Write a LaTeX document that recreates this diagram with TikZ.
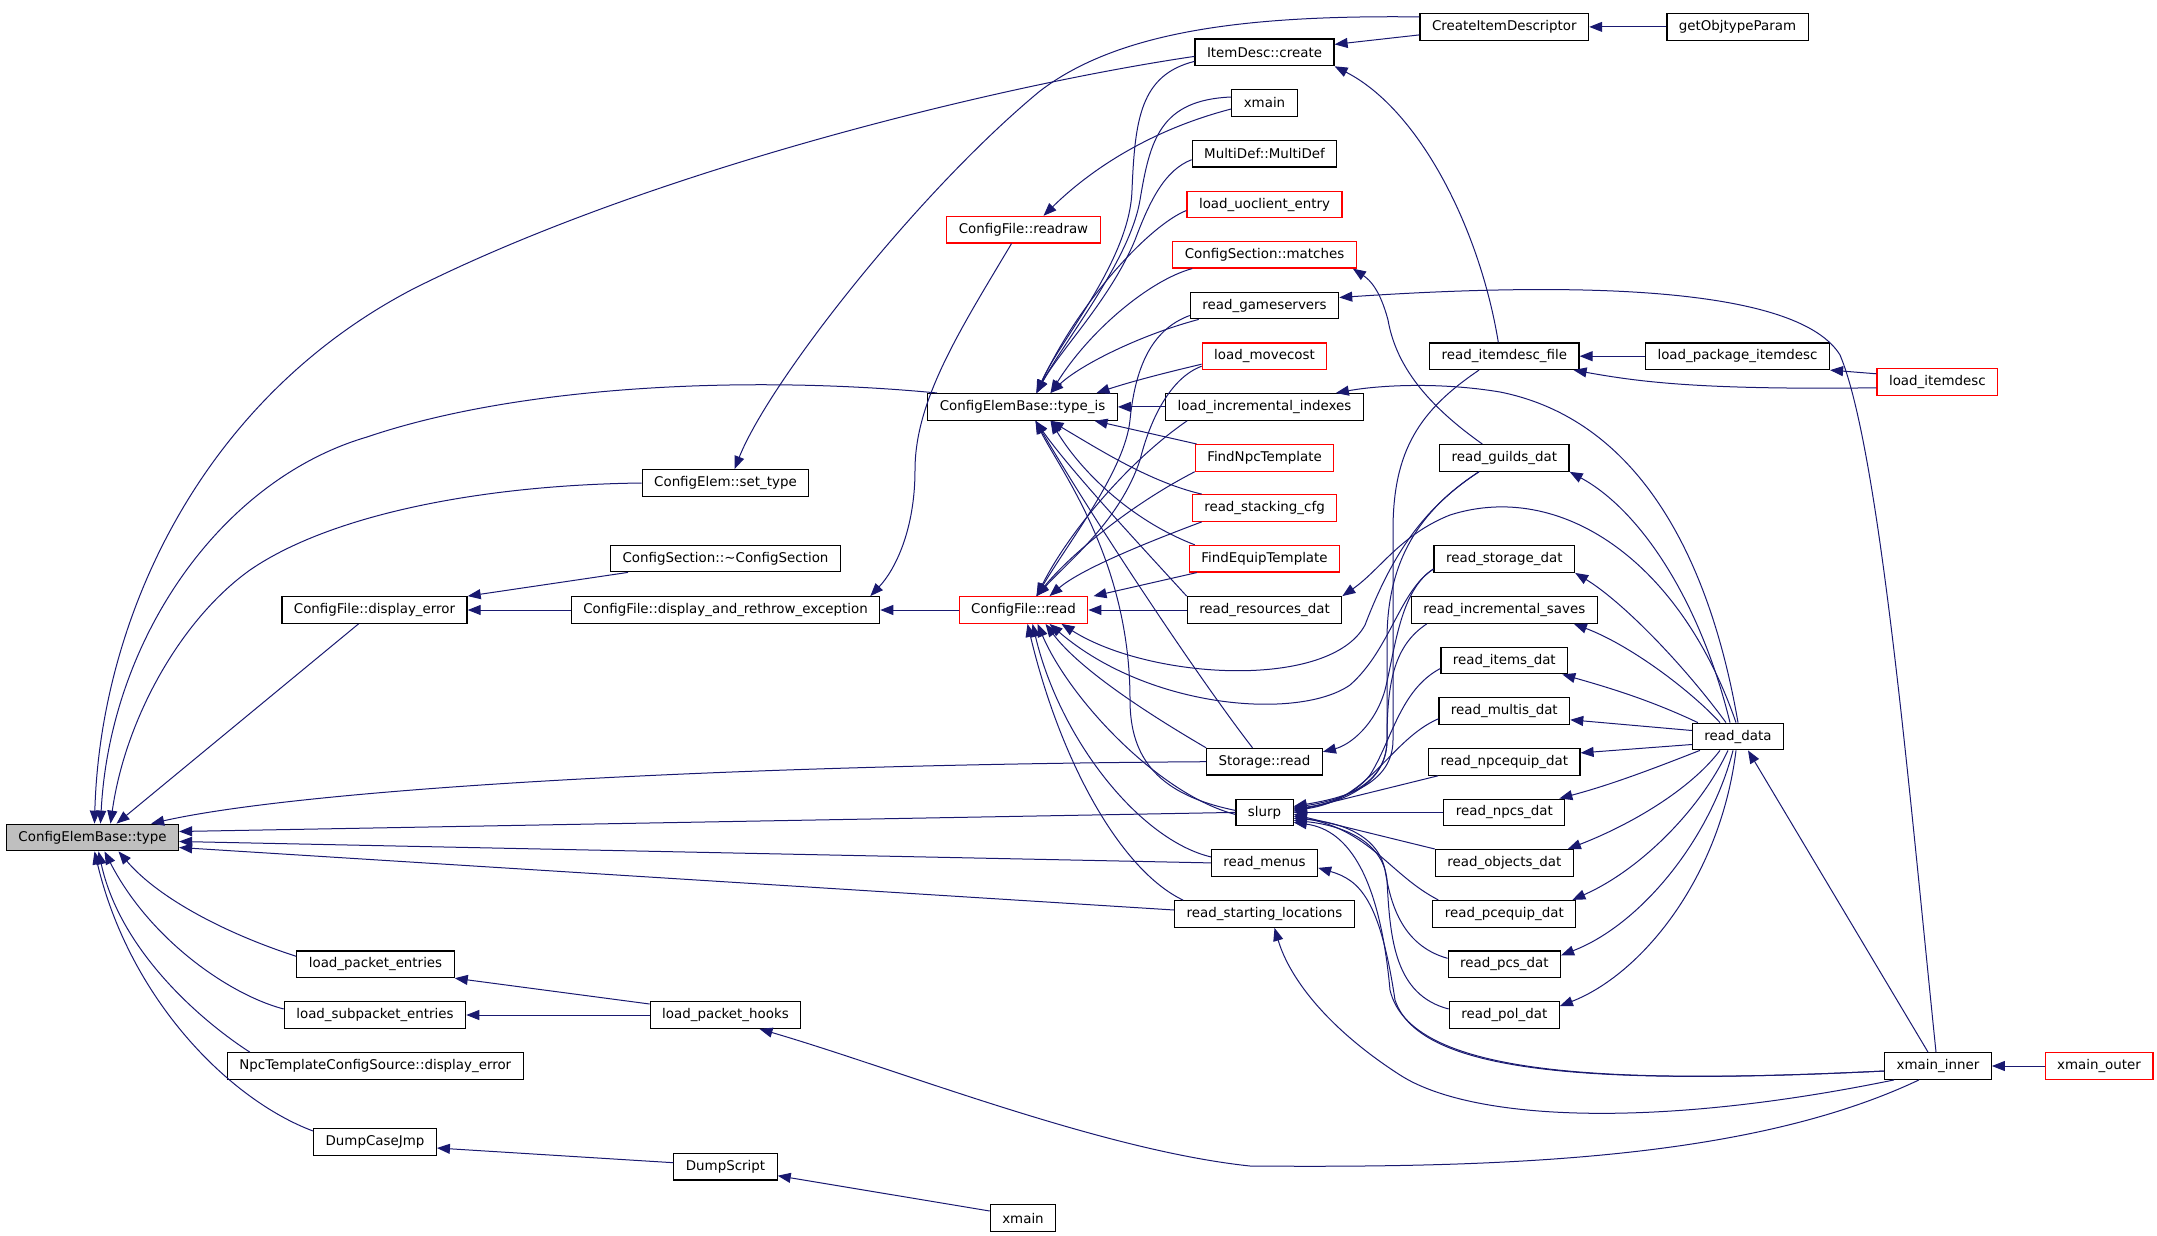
\documentclass[tikz,border=0pt]{standalone}
\usepackage{fontspec}
\usepackage{tikz}
\usetikzlibrary{arrows.meta,positioning}
\newfontfamily\graphfont{DejaVu Sans}
\definecolor{edgeblue}{RGB}{25,25,112}
\definecolor{rootgray}{RGB}{191,191,191}
\definecolor{boxred}{RGB}{255,0,0}
\tikzset{
  fnbox/.style={draw=black, fill=white, line width=0.6pt, inner xsep=6pt, inner ysep=0pt,
                minimum height=13.3pt, font=\graphfont\fontsize{6.7pt}{8pt}\selectfont},
  fnred/.style={fnbox, draw=boxred},
  fnroot/.style={fnbox, fill=rootgray},
  call/.style={draw=edgeblue, line width=0.5pt, -{Triangle[length=6.5pt,width=5pt]}}
}

\begin{document}
\begin{tikzpicture}[x=0.5pt,y=-0.5pt]
  \useasboundingbox (0,0) rectangle (2157,1236);
  % left part
  \node[fnroot] (type) at (92.5,837.5) {ConfigElemBase::type};
  \node[fnbox] (disperr) at (374.5,610) {ConfigFile::display\_error};
  \node[fnbox] (rethrow) at (725.5,610) {ConfigFile::display\_and\_rethrow\_exception};
  \node[fnbox] (settype) at (725.5,483) {ConfigElem::set\_type};
  \node[fnbox] (dtor) at (725.5,558.5) {ConfigSection::\textasciitilde ConfigSection};
  \node[fnbox] (lpe) at (375.5,964.3) {load\_packet\_entries};
  \node[fnbox] (lspe) at (375,1015) {load\_subpacket\_entries};
  \node[fnbox] (npcerr) at (375.3,1066) {NpcTemplateConfigSource::display\_error};
  \node[fnbox] (dcj) at (375,1142) {DumpCaseJmp};
  \node[fnbox] (lph) at (725.5,1015) {load\_packet\_hooks};
  \node[fnbox] (dumpscript) at (725.5,1166.7) {DumpScript};
  \node[fnbox] (xmainb) at (1023,1218) {xmain};
  \node[fnred] (readraw) at (1023.5,229.7) {ConfigFile::readraw};
  \node[fnbox] (typeis) at (1022.5,406.9) {ConfigElemBase::type\_is};
  \node[fnred] (cfread) at (1023.5,610) {ConfigFile::read};
  % middle column
  \node[fnbox] (itemcreate) at (1264.5,52.4) {ItemDesc::create};
  \node[fnbox] (xmaint) at (1264.5,103) {xmain};
  \node[fnbox] (multidef) at (1264.5,153.7) {MultiDef::MultiDef};
  \node[fnred] (uoclient) at (1264.5,204.5) {load\_uoclient\_entry};
  \node[fnred] (matches) at (1264.5,254.7) {ConfigSection::matches};
  \node[fnbox] (gameservers) at (1264.5,305.5) {read\_gameservers};
  \node[fnred] (movecost) at (1264.5,356.2) {load\_movecost};
  \node[fnbox] (incidx) at (1264.5,406.9) {load\_incremental\_indexes};
  \node[fnred] (findnpc) at (1264.5,457.9) {FindNpcTemplate};
  \node[fnred] (stacking) at (1264.5,508) {read\_stacking\_cfg};
  \node[fnred] (findequip) at (1264.5,558.7) {FindEquipTemplate};
  \node[fnbox] (resources) at (1264.5,610) {read\_resources\_dat};
  \node[fnbox] (storageread) at (1264.5,761.7) {Storage::read};
  \node[fnbox] (slurp) at (1264.5,812.4) {slurp};
  \node[fnbox] (menus) at (1264.5,862.9) {read\_menus};
  \node[fnbox] (startloc) at (1264.5,914) {read\_starting\_locations};
  % right part
  \node[fnbox] (createid) at (1504.3,26.9) {CreateItemDescriptor};
  \node[fnbox] (getobj) at (1737.5,26.9) {getObjtypeParam};
  \node[fnbox] (itemdescfile) at (1504.3,356.2) {read\_itemdesc\_file};
  \node[fnbox] (lpkgitem) at (1737.5,356.2) {load\_package\_itemdesc};
  \node[fnred] (loaditemdesc) at (1937.4,381.8) {load\_itemdesc};
  \node[fnbox] (guilds) at (1504.3,457.9) {read\_guilds\_dat};
  \node[fnbox] (storagedat) at (1504.3,559) {read\_storage\_dat};
  \node[fnbox] (incsaves) at (1504.3,610) {read\_incremental\_saves};
  \node[fnbox] (items) at (1504.3,660.5) {read\_items\_dat};
  \node[fnbox] (multis) at (1504.3,710.8) {read\_multis\_dat};
  \node[fnbox] (npcequip) at (1504.3,761.9) {read\_npcequip\_dat};
  \node[fnbox] (npcs) at (1504.3,812.4) {read\_npcs\_dat};
  \node[fnbox] (objects) at (1504.3,862.9) {read\_objects\_dat};
  \node[fnbox] (pcequip) at (1504.3,913.8) {read\_pcequip\_dat};
  \node[fnbox] (pcs) at (1504.3,964.3) {read\_pcs\_dat};
  \node[fnbox] (pol) at (1504.3,1015) {read\_pol\_dat};
  \node[fnbox] (readdata) at (1738,736.5) {read\_data};
  \node[fnbox] (xmaininner) at (1938,1066) {xmain\_inner};
  \node[fnred] (xmainouter) at (2099,1066) {xmain\_outer};

  % callers of ConfigElemBase::type
  \draw[call] ([yshift=-2pt]itemcreate.west) .. controls (1000,85) and (650,170) .. (413,289) .. controls (200,400) and (100,620) .. ([xshift=1pt]type.north);
  \draw[call] ([xshift=5pt]typeis.north west) .. controls (750,375) and (520,385) .. (367,437) .. controls (220,480) and (110,640) .. ([xshift=4pt]type.north);
  \draw[call] (settype.west) .. controls (480,485) and (330,515) .. (250,570) .. controls (180,620) and (125,720) .. ([xshift=9pt]type.north);
  \draw[call] ([xshift=-8pt]disperr.south) -- ([xshift=12pt]type.north);
  \draw[call] (storageread.west) .. controls (700,765) and (300,790) .. ([xshift=-14pt]type.north east);
  \draw[call] (slurp.west) -- ([yshift=3pt]type.east);
  \draw[call] (menus.west) -- ([yshift=-2pt]type.east);
  \draw[call] ([yshift=2pt]startloc.west) -- ([yshift=-5pt]type.east);
  \draw[call] ([yshift=4pt]lpe.west) .. controls (230,935) and (160,900) .. ([xshift=13pt]type.south);
  \draw[call] ([yshift=3pt]lspe.west) .. controls (230,995) and (150,940) .. ([xshift=6pt]type.south);
  \draw[call] ([xshift=11.5pt]npcerr.north west) .. controls (200,1020) and (120,950) .. ([xshift=3pt]type.south);
  \draw[call] ([yshift=5.5pt]dcj.west) .. controls (230,1100) and (130,1000) .. ([xshift=1pt]type.south);

  % set_type, ItemDesc::create, CreateItemDescriptor
  \draw[call] ([yshift=5pt]createid.west) .. controls (1250,15) and (1120,30) .. (1040,91) .. controls (920,190) and (770,380) .. ([xshift=4.5pt]settype.north);
  \draw[call] ([yshift=-4pt]createid.west) -- ([yshift=4pt]itemcreate.east);
  \draw[call] (getobj.west) -- (createid.east);
  \draw[call] ([xshift=-3pt]itemdescfile.north) .. controls (1480,230) and (1420,110) .. (itemcreate.south east);
  \draw[call] (lpkgitem.west) -- (itemdescfile.east);
  \draw[call] ([yshift=4pt]loaditemdesc.west) -- (lpkgitem.south east);
  \draw[call] ([yshift=-3pt]loaditemdesc.west) .. controls (1700,390) and (1640,382) .. ([xshift=-3pt]itemdescfile.south east);

  % readraw and the display chain
  \draw[call] ([yshift=-3pt]xmaint.west) .. controls (1150,130) and (1090,170) .. ([xshift=10pt]readraw.north);
  \draw[call] ([xshift=-6pt]readraw.south) .. controls (960,330) and (915,400) .. (915,470) .. controls (915,530) and (895,570) .. ([xshift=-5pt]rethrow.north east);
  \draw[call] (cfread.west) -- (rethrow.east);
  \draw[call] (rethrow.west) -- (disperr.east);
  \draw[call] ([xshift=9pt]dtor.south west) -- (disperr.north east);

  % callers of type_is
  \draw[call] ([yshift=-4.5pt]itemcreate.west) .. controls (1140,75) and (1135,120) .. (1132,190) .. controls (1130,260) and (1060,340) .. ([xshift=7pt]typeis.north);
  \draw[call] ([yshift=3pt]xmaint.west) .. controls (1160,100) and (1150,140) .. (1140,200) .. controls (1130,260) and (1065,340) .. ([xshift=7pt]typeis.north);
  \draw[call] ([yshift=-3pt]multidef.west) .. controls (1165,170) and (1150,200) .. (1135,240) .. controls (1110,300) and (1060,350) .. ([xshift=7pt]typeis.north);
  \draw[call] ([yshift=-3pt]uoclient.west) .. controls (1150,225) and (1080,300) .. ([xshift=7pt]typeis.north);
  \draw[call] ([xshift=10pt]matches.south west) .. controls (1150,280) and (1090,330) .. ([xshift=14pt]typeis.north);
  \draw[call] ([xshift=4.5pt]gameservers.south west) .. controls (1140,335) and (1080,365) .. ([xshift=14pt]typeis.north);
  \draw[call] ([yshift=-4pt]movecost.west) .. controls (1160,374) and (1130,382) .. ([xshift=37pt]typeis.north);
  \draw[call] (incidx.west) -- (typeis.east);
  \draw[call] ([xshift=1pt]findnpc.north west) -- ([xshift=36pt]typeis.south);
  \draw[call] ([xshift=5pt]stacking.north west) .. controls (1150,482) and (1100,450) .. ([xshift=14pt]typeis.south);
  \draw[call] ([xshift=3pt]findequip.north west) .. controls (1130,520) and (1080,470) .. ([xshift=14pt]typeis.south);
  \draw[call] (resources.north west) .. controls (1140,545) and (1070,470) .. ([xshift=6.5pt]typeis.south);
  \draw[call] ([xshift=-6pt]storageread.north) .. controls (1200,680) and (1100,530) .. ([xshift=6.5pt]typeis.south);
  \draw[call] ([yshift=1pt]slurp.west) .. controls (1160,795) and (1130,760) .. (1130,700) .. controls (1130,560) and (1060,470) .. ([xshift=6.5pt]typeis.south);

  % callers of ConfigFile::read
  \draw[call] ([yshift=-5pt]gameservers.west) .. controls (1150,330) and (1135,370) .. (1130,420) .. controls (1125,470) and (1070,540) .. ([xshift=6.5pt]cfread.north);
  \draw[call] ([yshift=-5pt]movecost.west) .. controls (1170,378) and (1150,420) .. (1140,460) .. controls (1120,520) and (1070,560) .. ([xshift=6.5pt]cfread.north);
  \draw[call] ([xshift=11pt]incidx.south west) .. controls (1130,460) and (1070,530) .. ([xshift=6.5pt]cfread.north);
  \draw[call] (findnpc.south west) .. controls (1130,505) and (1070,555) .. ([xshift=6.5pt]cfread.north);
  \draw[call] ([xshift=5pt]stacking.south west) .. controls (1140,545) and (1080,570) .. ([xshift=13pt]cfread.north);
  \draw[call] ([xshift=4pt]findequip.south west) -- ([xshift=35pt]cfread.north);
  \draw[call] (resources.west) -- (cfread.east);
  \draw[call] ([xshift=20pt]guilds.south west) .. controls (1420,510) and (1390,560) .. (1365,625) .. controls (1330,690) and (1150,680) .. ([xshift=19pt]cfread.south);
  \draw[call] ([yshift=-5pt]storagedat.west) .. controls (1400,590) and (1390,650) .. (1350,685) .. controls (1300,720) and (1150,710) .. ([xshift=13pt]cfread.south);
  \draw[call] (storageread.north west) .. controls (1150,715) and (1080,670) .. ([xshift=11pt]cfread.south);
  \draw[call] ([yshift=-1pt]slurp.west) .. controls (1160,795) and (1070,700) .. ([xshift=7pt]cfread.south);
  \draw[call] ([yshift=3pt]menus.west) .. controls (1140,840) and (1060,740) .. ([xshift=4.5pt]cfread.south);
  \draw[call] ([xshift=4.5pt]startloc.north west) .. controls (1120,870) and (1060,760) .. ([xshift=2pt]cfread.south);

  % read_data and what it calls
  \draw[call] ([xshift=-9pt]readdata.north) .. controls (1690,690) and (1630,645) .. ([xshift=-12pt]incsaves.south east);
  \draw[call] ([xshift=-6pt]readdata.north) .. controls (1680,660) and (1620,600) .. (storagedat.south east);
  \draw[call] ([xshift=-4pt]readdata.north) .. controls (1700,600) and (1640,510) .. (guilds.south east);
  \draw[call] ([xshift=-1pt]readdata.north) .. controls (1680,560) and (1560,480) .. (1450,515) .. controls (1400,535) and (1380,570) .. (resources.north east);
  \draw[call] (readdata.north) .. controls (1710,560) and (1640,420) .. (1500,392) .. controls (1440,382) and (1380,385) .. ([xshift=-14pt]incidx.north east);
  \draw[call] ([xshift=3pt]readdata.north west) .. controls (1650,700) and (1610,688) .. ([xshift=-3pt]items.south east);
  \draw[call] ([yshift=3pt]readdata.west) -- ([yshift=-4.5pt]multis.east);
  \draw[call] ([yshift=-4pt]readdata.west) -- ([yshift=4.5pt]npcequip.east);
  \draw[call] ([xshift=4pt]readdata.south west) .. controls (1650,770) and (1610,785) .. ([xshift=-3pt]npcs.north east);
  \draw[call] ([xshift=-9pt]readdata.south) .. controls (1690,790) and (1630,825) .. ([xshift=-3pt]objects.north east);
  \draw[call] ([xshift=-5pt]readdata.south) .. controls (1700,810) and (1640,870) .. ([xshift=-2pt]pcequip.north east);
  \draw[call] ([xshift=-2.5pt]readdata.south) .. controls (1710,840) and (1640,925) .. ([yshift=4.5pt]pcs.east);
  \draw[call] ([xshift=-1pt]readdata.south) .. controls (1720,880) and (1640,975) .. ([yshift=4.5pt]pol.east);

  \draw[call] ([xshift=-11pt]guilds.north) .. controls (1420,400) and (1395,360) .. (1388,320) .. controls (1380,290) and (1370,280) .. ([xshift=-2pt]matches.south east);
  \draw[call] ([yshift=-5pt]storagedat.west) .. controls (1400,590) and (1395,650) .. (1385,690) .. controls (1375,725) and (1350,745) .. ([yshift=-2pt]storageread.north east);

  % callers of slurp
  \draw[call] ([xshift=25pt]itemdescfile.south west) .. controls (1420,410) and (1393,450) .. (1393,530) -- (1393,740) .. controls (1393,790) and (1330,800) .. ([yshift=3pt]slurp.east);
  \draw[call] ([xshift=20pt]guilds.south west) .. controls (1420,510) and (1387,560) .. (1387,640) -- (1387,740) .. controls (1387,790) and (1330,802) .. ([yshift=2.5pt]slurp.east);
  \draw[call] ([xshift=8pt]incsaves.south west) .. controls (1395,645) and (1387,680) .. (1387,740) .. controls (1387,790) and (1330,805) .. ([yshift=2pt]slurp.east);
  \draw[call] ([yshift=-4pt]items.west) .. controls (1400,690) and (1392,740) .. (1370,775) .. controls (1350,800) and (1320,805) .. ([yshift=1.5pt]slurp.east);
  \draw[call] ([yshift=-4pt]multis.west) .. controls (1390,740) and (1370,800) .. ([yshift=1pt]slurp.east);
  \draw[call] ([xshift=5pt]npcequip.south west) -- ([yshift=0.5pt]slurp.east);
  \draw[call] (npcs.west) -- (slurp.east);
  \draw[call] (objects.north west) -- ([yshift=-1pt]slurp.east);
  \draw[call] ([xshift=3pt]pcequip.north west) .. controls (1390,875) and (1370,830) .. ([yshift=-2pt]slurp.east);
  \draw[call] ([yshift=3pt]pcs.west) .. controls (1400,945) and (1390,900) .. (1385,870) .. controls (1378,835) and (1340,822) .. ([yshift=-3pt]slurp.east);
  \draw[call] ([yshift=3pt]pol.west) .. controls (1395,995) and (1390,940) .. (1387,880) .. controls (1383,840) and (1340,825) .. ([yshift=-4pt]slurp.east);
  \draw[call] ([yshift=-2.5pt]xmaininner.west) .. controls (1600,1085) and (1410,1075) .. (1390,990) .. controls (1380,880) and (1350,830) .. ([yshift=-5pt]slurp.east);

  % xmain_inner and the rest
  \draw[call] ([xshift=-5pt]xmaininner.north) -- ([xshift=5pt]readdata.south);
  \draw[call] ([xshift=-1pt]xmaininner.north) .. controls (1910,800) and (1880,450) .. (1840,355) .. controls (1800,290) and (1600,280) .. ([yshift=4pt]gameservers.east);
  \draw[call] ([yshift=-2.5pt]xmaininner.west) .. controls (1600,1085) and (1420,1075) .. (1395,1000) .. controls (1380,900) and (1360,880) .. ([yshift=-2.5pt]menus.east);
  \draw[call] ([xshift=5pt]xmaininner.south west) .. controls (1650,1130) and (1470,1120) .. (1400,1075) .. controls (1330,1030) and (1290,980) .. ([xshift=5pt]startloc.south);
  \draw[call] ([xshift=-9.5pt]xmaininner.south) .. controls (1750,1160) and (1500,1168) .. (1250,1166) .. controls (1100,1150) and (900,1070) .. ([xshift=17pt]lph.south);
  \draw[call] (xmainouter.west) -- (xmaininner.east);
  \draw[call] ([yshift=5.5pt]lph.west) -- (lpe.south east);
  \draw[call] (lph.west) -- (lspe.east);
  \draw[call] ([yshift=2pt]dumpscript.west) -- ([yshift=-3pt]dcj.east);
  \draw[call] ([yshift=3.5pt]xmainb.west) -- ([yshift=-4.5pt]dumpscript.east);
\end{tikzpicture}
\end{document}
